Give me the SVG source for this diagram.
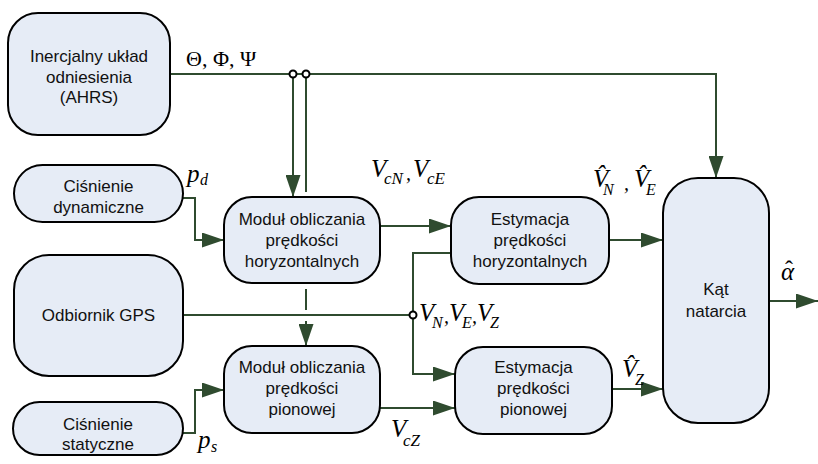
<svg xmlns="http://www.w3.org/2000/svg" width="818" height="464" viewBox="0 0 818 464">
<style>
.box{fill:#e6ecf6;stroke:#000;stroke-width:2}
.t{font-family:"Liberation Sans",Arial,sans-serif;font-size:17px;fill:#111;text-anchor:middle}
.c{fill:none;stroke:#2f4b2f;stroke-width:2}
.j{fill:#fff;stroke:#000;stroke-width:2}
.m{font-family:"Liberation Serif","Times New Roman",serif;font-style:italic;fill:#000}
.u{font-family:"Liberation Serif","Times New Roman",serif;fill:#000}
.h{font-style:normal;font-size:24px}
</style>
<defs>
<marker id="a" markerUnits="userSpaceOnUse" markerWidth="22" markerHeight="15" refX="22" refY="7.5" orient="auto">
<path d="M0,0 L22,7.5 L0,15 Z" fill="#2f4b2f"/>
</marker>
</defs>
<rect width="818" height="464" fill="#fff"/>
<g id="connectors">
<path class="c" d="M170,74 H716 V178" marker-end="url(#a)"/>
<path class="c" d="M293,74 V197" marker-end="url(#a)"/>
<path class="c" d="M306,74 V192"/>
<path class="c" d="M306,289 V310"/>
<path class="c" d="M306,321 V346" marker-end="url(#a)"/>
<path class="c" d="M183,198 H195 V240 H224" marker-end="url(#a)"/>
<path class="c" d="M183,433 H195 V390 H224" marker-end="url(#a)"/>
<path class="c" d="M380,226 H451" marker-end="url(#a)"/>
<path class="c" d="M183,315 H413"/>
<path class="c" d="M451,253 H413 V374 H455" marker-end="url(#a)"/>
<path class="c" d="M380,408 H455" marker-end="url(#a)"/>
<path class="c" d="M609,240 H663" marker-end="url(#a)"/>
<path class="c" d="M612,389 H663" marker-end="url(#a)"/>
<path class="c" d="M769,301 H818" marker-end="url(#a)"/>
<circle class="j" cx="293" cy="74" r="3.5"/>
<circle class="j" cx="306" cy="74" r="3.5"/>
<circle class="j" cx="413" cy="315" r="3.5"/>
</g>
<g id="ahrs">
<rect class="box" x="8" y="13" width="162" height="122" rx="30"/>
<text class="t" x="89" y="62">Inercjalny układ</text>
<text class="t" x="89" y="83">odniesienia</text>
<text class="t" x="89" y="103">(AHRS)</text>
</g>
<g id="cisn-dyn">
<rect class="box" x="14" y="165" width="169" height="57" rx="28.5"/>
<text class="t" x="98.5" y="192">Ciśnienie</text>
<text class="t" x="98.5" y="213">dynamiczne</text>
</g>
<g id="gps">
<rect class="box" x="14" y="255" width="169" height="121" rx="35"/>
<text class="t" x="98.5" y="321">Odbiornik GPS</text>
</g>
<g id="cisn-stat">
<rect class="box" x="13" y="402" width="170" height="53" rx="26.5"/>
<text class="t" x="98" y="430">Ciśnienie</text>
<text class="t" x="98" y="450">statyczne</text>
</g>
<g id="modul-h">
<rect class="box" x="224" y="197" width="156" height="86" rx="28"/>
<text class="t" x="302" y="225">Moduł obliczania</text>
<text class="t" x="302" y="246">prędkości</text>
<text class="t" x="302" y="267">horyzontalnych</text>
</g>
<g id="modul-p">
<rect class="box" x="224" y="346" width="156" height="87" rx="28"/>
<text class="t" x="302" y="373">Moduł obliczania</text>
<text class="t" x="302" y="394">prędkości</text>
<text class="t" x="302" y="415">pionowej</text>
</g>
<g id="est-h">
<rect class="box" x="451" y="197" width="158" height="87" rx="28"/>
<text class="t" x="530" y="225">Estymacja</text>
<text class="t" x="530" y="246">prędkości</text>
<text class="t" x="530" y="267">horyzontalnych</text>
</g>
<g id="est-p">
<rect class="box" x="455" y="347" width="157" height="87" rx="28"/>
<text class="t" x="533.5" y="373">Estymacja</text>
<text class="t" x="533.5" y="394">prędkości</text>
<text class="t" x="533.5" y="415">pionowej</text>
</g>
<g id="kat">
<rect class="box" x="663" y="178" width="106" height="245" rx="35"/>
<text class="t" x="716" y="295">Kąt</text>
<text class="t" x="716" y="317">natarcia</text>
</g>
<g id="labels">
<text class="u" x="186" y="66" font-size="22">Θ, Φ, Ψ</text>
<text class="m" x="187" y="182" font-size="25">p<tspan x="200" y="185" font-size="16">d</tspan></text>
<text class="m" x="198" y="448" font-size="25">p<tspan x="211" y="452" font-size="16">s</tspan></text>
<text class="m" x="371" y="177" font-size="25">V<tspan x="384" y="184" font-size="17">cN</tspan><tspan x="406" y="180" font-size="20">,</tspan><tspan x="413" y="177">V</tspan><tspan x="427" y="184" font-size="17">cE</tspan></text>
<text class="m" x="419" y="321" font-size="25">V<tspan x="432" y="328" font-size="16">N</tspan><tspan x="444" y="323" font-size="20">,</tspan><tspan x="449" y="321">V</tspan><tspan x="462" y="328" font-size="16">E</tspan><tspan x="472" y="323" font-size="20">,</tspan><tspan x="477" y="321">V</tspan><tspan x="490" y="328" font-size="16">Z</tspan></text>
<text class="m" x="391" y="437" font-size="25">V<tspan x="403" y="446" font-size="17">cZ</tspan></text>
<text class="m" x="593" y="187" font-size="25">V̂<tspan x="603" y="195" font-size="16">N</tspan><tspan x="624" y="190" font-size="20">,</tspan><tspan x="634" y="187">V̂</tspan><tspan x="646" y="195" font-size="16">E</tspan></text>
<text class="m" x="622" y="377" font-size="25">V̂<tspan x="635" y="385" font-size="16">Z</tspan></text>
<text class="m" x="781" y="280" font-size="25">α<tspan class="h" x="785" y="277">ˆ</tspan></text>
</g>
</svg>
